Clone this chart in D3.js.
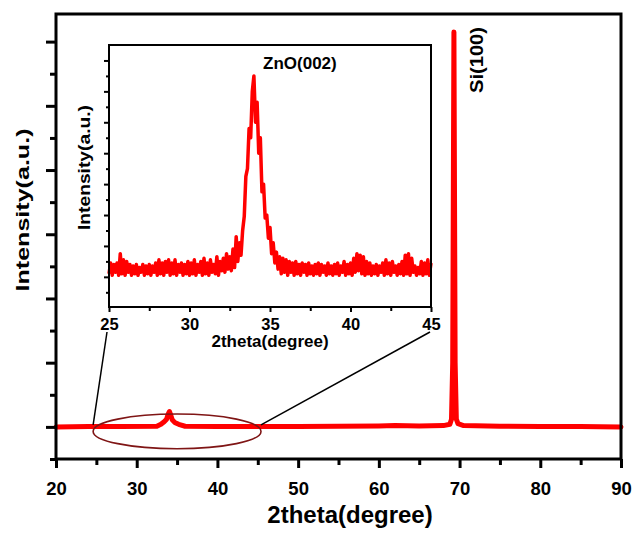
<!DOCTYPE html>
<html>
<head>
<meta charset="utf-8">
<script src="https://cdn.jsdelivr.net/npm/d3@7"></script>
<style>
  body { margin: 0; background: #fff; }
  svg { display: block; }
  text { font-family: "Liberation Sans", Arial, sans-serif; font-weight: bold; fill: #000; }
</style>
</head>
<body>
<svg id="chart" width="636" height="535"></svg>
<script>
// main pattern, 2theta vs intensity (a.u.)
const mainTheta = [20, 24, 28, 32.5, 33.0, 33.4, 33.7, 33.9, 34.05, 34.2, 34.4, 34.7, 35.2, 36.0,
  40, 45, 50, 55, 60, 62, 65, 68, 68.8, 69.0, 69.15, 69.3, 69.45, 69.6, 69.8, 70.5, 75, 80, 85, 90];
const mainIntensity = [0, 0.005, 0.005, 0.01, 0.04, 0.08, 0.12, 0.2, 0.24, 0.19, 0.11, 0.07, 0.04, 0.01,
  0.005, 0.005, 0.005, 0.01, 0.015, 0.02, 0.015, 0.02, 0.04, 0.12, 1.0, 6.15, 1.0, 0.12, 0.05, 0.02, 0.01, 0.005, 0.005, 0];

// inset scan, 25..45 deg sampled every 0.1 deg
const insetStart = 25;
const insetStep = 0.1;
const insetIntensity = [
  0.2, 0.9, 0.1, 0.8, 0.3, 0.9, 0.1, 1.5, 0.2, 1.1,
  0.1, 1.0, 0.3, 0.8, 0.1, 0.7, 0.2, 0.8, 0.1, 0.6,
  0.3, 0.8, 0.1, 0.7, 0.2, 0.8, 0.1, 0.7, 0.3, 0.9,
  0.1, 1.1, 0.2, 0.9, 0.1, 1.0, 0.3, 1.1, 0.1, 0.9,
  0.2, 1.1, 0.1, 0.8, 0.3, 0.9, 0.1, 0.8, 0.2, 1.0,
  0.1, 0.9, 0.2, 1.1, 0.1, 0.8, 0.3, 1.0, 0.1, 1.2,
  0.2, 0.9, 0.1, 1.1, 0.3, 0.8, 0.2, 1.3, 0.1, 1.0,
  0.4, 1.2, 0.3, 1.5, 0.5, 1.3, 0.4, 1.8, 0.6, 2.6,
  1.0, 2.2, 1.4, 3.0, 3.9, 6.5, 7.0, 9.6, 9.0, 12.0,
  13.0, 10.0, 11.3, 8.0, 9.0, 5.5, 6.0, 3.8, 4.0, 2.5,
  3.2, 1.5, 2.2, 0.9, 1.6, 0.5, 1.3, 0.2, 1.2, 0.3,
  1.1, 0.1, 1.0, 0.3, 0.9, 0.1, 1.0, 0.2, 0.8, 0.1,
  0.9, 0.3, 0.8, 0.1, 0.9, 0.2, 0.7, 0.1, 0.8, 0.2,
  0.9, 0.1, 0.8, 0.3, 0.7, 0.1, 0.9, 0.2, 0.7, 0.1,
  0.8, 0.2, 0.9, 0.1, 0.7, 0.3, 1.0, 0.1, 0.8, 0.2,
  0.9, 0.1, 1.2, 0.3, 1.5, 0.4, 1.4, 0.2, 1.3, 0.1,
  1.0, 0.2, 0.9, 0.1, 0.7, 0.2, 0.8, 0.1, 0.7, 0.3,
  0.9, 0.1, 1.1, 0.2, 0.9, 0.1, 1.0, 0.3, 0.7, 0.1,
  0.8, 0.2, 1.0, 0.1, 1.4, 0.2, 1.5, 0.1, 1.2, 0.3,
  0.7, 0.1, 0.6, 0.2, 1.0, 0.1, 0.9, 0.2, 1.1, 0.1,
  0.9
];

const mainXTicks = [20, 30, 40, 50, 60, 70, 80, 90];
const mainXMinor = [25, 35, 45, 55, 65, 75, 85];
const mainYTicks = [0, 1, 2, 3, 4, 5, 6];
const mainYMinor = [-0.5, 0.5, 1.5, 2.5, 3.5, 4.5, 5.5];
const insetXTicks = [25, 30, 35, 40, 45];
const insetXMinor = [27.5, 32.5, 37.5, 42.5];
const insetYTicks = [0, 2, 4, 6, 8, 10, 12, 14];
const insetYMinor = [-1, 1, 3, 5, 7, 9, 11, 13];

// zoom ellipse around the ZnO region (theta range, intensity centre / half height)
const zoomRange = [24.6, 45.4];
const zoomCenter = -0.07;
const zoomHalfHeight = 0.27;

const svg = d3.select("#chart");
const red = "#ff0000";

const main = { left: 56, right: 621, top: 14, bottom: 459 };
const inset = { left: 109, right: 431, top: 45, bottom: 307 };

const xScale = d3.scaleLinear().domain([20, 90]).range([main.left, main.right]);
const yScale = d3.scaleLinear().domain([-0.5, 6.43]).range([main.bottom, main.top]);
const ixScale = d3.scaleLinear().domain([25, 45]).range([inset.left, inset.right]);
const iyScale = d3.scaleLinear().domain([-1.95, 15]).range([inset.bottom, inset.top]);

const mainData = mainTheta.map((t, i) => [t, mainIntensity[i]]);
const insetData = insetIntensity.map((v, i) => [insetStart + i * insetStep, v]);

// main data line
const line = d3.line().x((d) => xScale(d[0])).y((d) => yScale(d[1]));
svg
  .append("path")
  .attr("d", line(mainData))
  .attr("fill", "none")
  .attr("stroke", red)
  .attr("stroke-width", 5)
  .attr("stroke-linejoin", "round")
  .attr("stroke-linecap", "round");

// main frame
svg
  .append("rect")
  .attr("x", main.left)
  .attr("y", main.top)
  .attr("width", main.right - main.left)
  .attr("height", main.bottom - main.top)
  .attr("fill", "none")
  .attr("stroke", "#000")
  .attr("stroke-width", 3);

// x-axis
const xAxis = svg
  .append("g")
  .attr("transform", `translate(0, ${main.bottom})`)
  .call(d3.axisBottom(xScale).tickValues(mainXTicks).tickSize(9).tickPadding(14).tickSizeOuter(0));
xAxis.select(".domain").remove();
xAxis.selectAll("line").attr("stroke-width", 3);
xAxis.selectAll("text").style("font-size", "18.5px").style("font-family", null);

const xMinor = svg
  .append("g")
  .attr("transform", `translate(0, ${main.bottom})`)
  .call(d3.axisBottom(xScale).tickValues(mainXMinor).tickSize(6).tickFormat(""));
xMinor.select(".domain").remove();
xMinor.selectAll("line").attr("stroke-width", 3);

// y-axis (no labels)
const yAxis = svg
  .append("g")
  .attr("transform", `translate(${main.left}, 0)`)
  .call(d3.axisLeft(yScale).tickValues(mainYTicks).tickSize(10).tickFormat(""));
yAxis.select(".domain").remove();
yAxis.selectAll("line").attr("stroke-width", 3);

const yMinor = svg
  .append("g")
  .attr("transform", `translate(${main.left}, 0)`)
  .call(d3.axisLeft(yScale).tickValues(mainYMinor).tickSize(6).tickFormat(""));
yMinor.select(".domain").remove();
yMinor.selectAll("line").attr("stroke-width", 3);

// axis titles
svg
  .append("text")
  .attr("x", 350)
  .attr("y", 523)
  .attr("text-anchor", "middle")
  .style("font-size", "24px")
  .text("2theta(degree)");

svg
  .append("text")
  .attr("transform", "translate(28.5, 210) rotate(-90)")
  .attr("text-anchor", "middle")
  .attr("textLength", 163)
  .attr("lengthAdjust", "spacingAndGlyphs")
  .style("font-size", "19px")
  .text("Intensity(a.u.)");

// Si peak label
svg
  .append("text")
  .attr("transform", `translate(${xScale(69.3) + 29}, 60) rotate(-90)`)
  .attr("text-anchor", "middle")
  .attr("textLength", 66)
  .attr("lengthAdjust", "spacingAndGlyphs")
  .style("font-size", "19px")
  .text("Si(100)");

// zoom ellipse + connectors
const ex0 = xScale(zoomRange[0]);
const ex1 = xScale(zoomRange[1]);
svg
  .append("ellipse")
  .attr("cx", (ex0 + ex1) / 2)
  .attr("cy", yScale(zoomCenter))
  .attr("rx", (ex1 - ex0) / 2)
  .attr("ry", yScale(-zoomHalfHeight) - yScale(0))
  .attr("fill", "none")
  .attr("stroke", "#7f1515")
  .attr("stroke-width", 1.6);

svg
  .append("line")
  .attr("x1", ex0)
  .attr("y1", yScale(0.03))
  .attr("x2", ixScale(25) - 2)
  .attr("y2", inset.bottom + 25)
  .attr("stroke", "#000")
  .attr("stroke-width", 1.5);

svg
  .append("line")
  .attr("x1", ex1)
  .attr("y1", yScale(0.03))
  .attr("x2", ixScale(45) - 1)
  .attr("y2", inset.bottom + 25)
  .attr("stroke", "#000")
  .attr("stroke-width", 1.5);

// inset
const ig = svg.append("g");
ig.append("rect")
  .attr("x", inset.left)
  .attr("y", inset.top)
  .attr("width", inset.right - inset.left)
  .attr("height", inset.bottom - inset.top)
  .attr("fill", "#fff")
  .attr("stroke", "none");

const insetLine = d3.line().x((d) => ixScale(d[0])).y((d) => iyScale(d[1]));
ig.append("path")
  .attr("d", insetLine(insetData))
  .attr("fill", "none")
  .attr("stroke", red)
  .attr("stroke-width", 3.5)
  .attr("stroke-linejoin", "round");

ig.append("rect")
  .attr("x", inset.left)
  .attr("y", inset.top)
  .attr("width", inset.right - inset.left)
  .attr("height", inset.bottom - inset.top)
  .attr("fill", "none")
  .attr("stroke", "#000")
  .attr("stroke-width", 2);

const ixAxis = ig
  .append("g")
  .attr("transform", `translate(0, ${inset.bottom})`)
  .call(d3.axisBottom(ixScale).tickValues(insetXTicks).tickSize(5).tickPadding(6));
ixAxis.select(".domain").remove();
ixAxis.selectAll("line").attr("stroke-width", 2);
ixAxis.selectAll("text").style("font-size", "16.5px").style("font-family", null);

const ixMinor = ig
  .append("g")
  .attr("transform", `translate(0, ${inset.bottom})`)
  .call(d3.axisBottom(ixScale).tickValues(insetXMinor).tickSize(4).tickFormat(""));
ixMinor.select(".domain").remove();
ixMinor.selectAll("line").attr("stroke-width", 2);

const iyAxis = ig
  .append("g")
  .attr("transform", `translate(${inset.left}, 0)`)
  .call(d3.axisLeft(iyScale).tickValues(insetYTicks).tickSize(5).tickFormat(""));
iyAxis.select(".domain").remove();
iyAxis.selectAll("line").attr("stroke-width", 2);

const iyMinor = ig
  .append("g")
  .attr("transform", `translate(${inset.left}, 0)`)
  .call(d3.axisLeft(iyScale).tickValues(insetYMinor).tickSize(3).tickFormat(""));
iyMinor.select(".domain").remove();
iyMinor.selectAll("line").attr("stroke-width", 2);

ig.append("text")
  .attr("x", (inset.left + inset.right) / 2)
  .attr("y", 347)
  .attr("text-anchor", "middle")
  .style("font-size", "17px")
  .text("2theta(degree)");

ig.append("text")
  .attr("transform", "translate(90, 167.5) rotate(-90)")
  .attr("text-anchor", "middle")
  .attr("textLength", 125)
  .attr("lengthAdjust", "spacingAndGlyphs")
  .style("font-size", "16px")
  .text("Intensity(a.u.)");

ig.append("text")
  .attr("x", ixScale(34) + 46)
  .attr("y", 69)
  .attr("text-anchor", "middle")
  .style("font-size", "17px")
  .text("ZnO(002)");
</script>
</body>
</html>
